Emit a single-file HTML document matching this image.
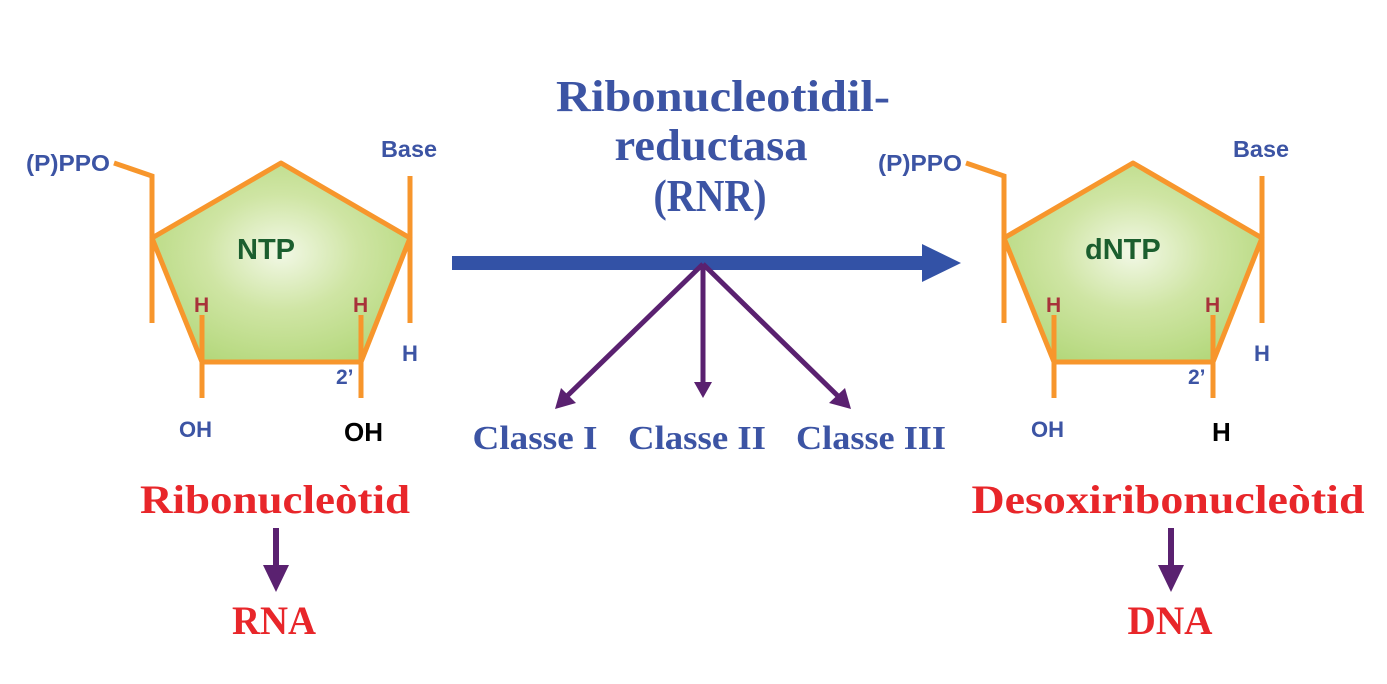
<!DOCTYPE html>
<html><head><meta charset="utf-8"><style>html,body{margin:0;padding:0;background:#fff}svg{display:block}</style></head>
<body>
<svg width="1387" height="684" viewBox="0 0 1387 684" xmlns="http://www.w3.org/2000/svg">
<defs>
<radialGradient id="g" cx="0.5" cy="0.45" r="0.65">
<stop offset="0" stop-color="#f2f8e6"/><stop offset="0.45" stop-color="#cfe5a4"/><stop offset="1" stop-color="#b0d676"/>
</radialGradient>
<g id="mol">
<polygon points="281,163 410,238 361,362 202,362 152,238" fill="url(#g)" stroke="#f7962c" stroke-width="5" stroke-linejoin="round"/>
<polyline points="114,163 152,176 152,323" fill="none" stroke="#f7962c" stroke-width="5"/>
<line x1="410" y1="176" x2="410" y2="323" stroke="#f7962c" stroke-width="5"/>
<line x1="202" y1="315" x2="202" y2="398" stroke="#f7962c" stroke-width="5"/>
<line x1="361" y1="315" x2="361" y2="398" stroke="#f7962c" stroke-width="5"/>
<g font-family="Liberation Sans, sans-serif" font-weight="bold">
<text x="26" y="171" font-size="23" fill="#3c54a4" textLength="84" lengthAdjust="spacingAndGlyphs">(P)PPO</text>
<text x="381" y="157" font-size="23" fill="#3c54a4" textLength="56" lengthAdjust="spacingAndGlyphs">Base</text>
<text x="194" y="312" font-size="21" fill="#a8323a">H</text>
<text x="353" y="312" font-size="21" fill="#a8323a">H</text>
<text x="402" y="361" font-size="22" fill="#3c54a4">H</text>
<text x="336" y="384" font-size="21" fill="#3c54a4">2’</text>
<text x="179" y="437" font-size="22" fill="#3c54a4">OH</text>
</g>
</g>
</defs>
<use href="#mol"/>
<use href="#mol" transform="translate(852,0)"/>
<g font-family="Liberation Sans, sans-serif" font-weight="bold">
<text x="237" y="259" font-size="29" fill="#1b5e2e">NTP</text>
<text x="1085" y="259" font-size="29" fill="#1b5e2e">dNTP</text>
<text x="344" y="441" font-size="26" fill="#000">OH</text>
<text x="1212" y="441" font-size="26" fill="#000">H</text>
</g>
<rect x="452" y="256" width="472" height="14" fill="#3352a6"/>
<polygon points="922,244 961,263 922,282" fill="#3352a6"/>
<g stroke="#5a2170" stroke-width="5" fill="#5a2170">
<line x1="703" y1="264" x2="563" y2="400"/>
<line x1="703" y1="264" x2="703" y2="388"/>
<line x1="703" y1="264" x2="842" y2="400"/>
</g>
<g fill="#5a2170">
<polygon points="555,409 561,388 576,403"/>
<polygon points="703,398 694,382 712,382"/>
<polygon points="851,409 829,403 845,388"/>
<rect x="273" y="528" width="6" height="40"/>
<polygon points="263,565 289,565 276,592"/>
<rect x="1168" y="528" width="6" height="40"/>
<polygon points="1158,565 1184,565 1171,592"/>
</g>
<g font-family="Liberation Serif, serif" font-weight="bold" fill="#3c54a4" text-anchor="middle">
<text x="723" y="111" font-size="44" textLength="334" lengthAdjust="spacingAndGlyphs">Ribonucleotidil-</text>
<text x="711" y="160" font-size="44" textLength="193" lengthAdjust="spacingAndGlyphs">reductasa</text>
<text x="710" y="211" font-size="46" textLength="113" lengthAdjust="spacingAndGlyphs">(RNR)</text>
<text x="535" y="449" font-size="34" textLength="125" lengthAdjust="spacingAndGlyphs">Classe I</text>
<text x="697" y="449" font-size="34" textLength="138" lengthAdjust="spacingAndGlyphs">Classe II</text>
<text x="871" y="449" font-size="34" textLength="150" lengthAdjust="spacingAndGlyphs">Classe III</text>
</g>
<g font-family="Liberation Serif, serif" font-weight="bold" fill="#e8262a" text-anchor="middle">
<text x="275" y="513" font-size="40" textLength="270" lengthAdjust="spacingAndGlyphs">Ribonucleòtid</text>
<text x="274" y="634" font-size="40" textLength="84" lengthAdjust="spacingAndGlyphs">RNA</text>
<text x="1168" y="513" font-size="40" textLength="393" lengthAdjust="spacingAndGlyphs">Desoxiribonucleòtid</text>
<text x="1170" y="634" font-size="40" textLength="85" lengthAdjust="spacingAndGlyphs">DNA</text>
</g>
</svg>
</body></html>
